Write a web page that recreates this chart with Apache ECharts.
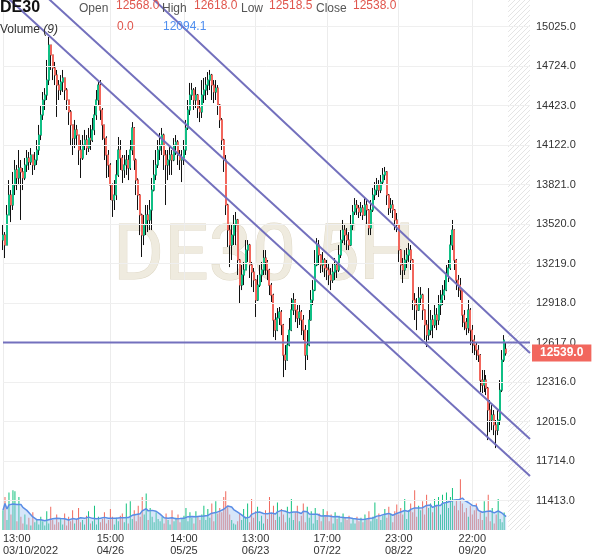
<!DOCTYPE html>
<html><head><meta charset="utf-8">
<script src="https://cdn.jsdelivr.net/npm/echarts@6/dist/echarts.min.js"></script>
<style>html,body{margin:0;padding:0;background:#fff}#c{width:600px;height:558px}</style>
</head><body><div id="c"></div>
<script>
const xLabels = ['13:00\n03/10/2022','15:00\n04/26','14:00\n05/25','13:00\n06/23','17:00\n07/22','23:00\n08/22','22:00\n09/20'];
const xLabelIndex = [0,54,91,127,163,199,236];
const priceTicks = [11413,11714,12015,12316,12617,12918,13219,13520,13821,14122,14423,14724,15025];
const resistanceLevel = 12618;
const lastPriceLabel = 12539.0;
// trend lines: [categoryIndex, price]
const trendLower = [[0,15277],[265,11601]];
const trendMiddle = [[0,15555],[265,11883]];
const trendUpper = [[0,16310],[265,12538]];
// candles: [open, close, low, high]
const candles = [
[13399,13437,13323,13514],[13437,13361,13262,13460],[13361,13590,13361,13666],[13590,13742,13590,13856],[13742,13666,13536,13780],
[13666,13818,13628,13918],[13818,13933,13742,14009],[13933,13872,13780,13971],[13872,13948,13818,14085],[13948,13918,13552,14009],
[13918,13872,13780,13948],[13872,13971,13856,14024],[13971,14024,13918,14085],[14024,13994,13933,14070],[13994,14047,13971,14100],
[14047,13971,13895,14047],[13971,14009,13933,14070],[14009,14085,13971,14161],[14085,14199,14047,14276],[14199,14352,14161,14428],
[14352,14466,14314,14527],[14466,14504,14390,14557],[14504,14618,14466,14771],[14618,14885,14580,14946],[14885,14809,14695,14885],
[14809,14710,14618,14809],[14710,14656,14580,14756],[14656,14580,14337,14695],[14580,14542,14466,14618],[14542,14603,14504,14656],
[14603,14634,14527,14695],[14634,14542,14466,14634],[14542,14466,14390,14557],[14466,14375,14276,14466],[14375,14276,14123,14390],
[14276,14176,14047,14276],[14176,14238,14100,14314],[14238,14199,14123,14276],[14199,14085,13971,14199],[14085,14024,13872,14161],
[14024,14123,14009,14199],[14123,14161,14085,14238],[14161,14100,14047,14199],[14100,14176,14070,14253],[14176,14161,14085,14276],
[14161,14238,14146,14329],[14238,14352,14199,14428],[14352,14466,14314,14542],[14466,14580,14428,14618],[14580,14390,14314,14618],
[14390,14276,14161,14405],[14276,14176,14009,14276],[14176,14047,13872,14190],[14047,13971,13879,14085],[13971,13818,13704,13985],
[13818,13704,13575,13830],[13704,13742,13628,13856],[13742,13895,13704,14009],[13895,14085,13880,14184],[14085,14024,13933,14161],
[14024,13933,13834,14047],[13933,13971,13872,14047],[13971,14009,13895,14085],[14009,13948,13856,14047],[13948,14085,13933,14161],
[14085,14253,14047,14298],[14253,14009,13933,14260],[14009,13856,13742,14020],[13856,13742,13628,13870],[13742,13590,13437,13750],
[13590,13437,13270,13600],[13437,13514,13361,13590],[13514,13590,13437,13666],[13590,13552,13460,13666],[13552,13628,13475,13704],
[13628,13780,13475,13872],[13780,13895,13770,14009],[13895,13971,13856,14085],[13971,14085,13948,14161],[14085,14123,14009,14215],
[14123,14199,14047,14253],[14199,14047,13933,14210],[14047,13971,13666,14085],[13971,14009,13856,14085],[14009,14047,13895,14123],
[14047,14009,13895,14085],[14009,14123,14000,14176],[14123,14146,14047,14199],[14146,14047,13971,14161],[14047,14009,13933,14085],
[14009,14024,13841,14085],[14024,14085,13971,14161],[14085,14253,14047,14314],[14253,14390,14238,14466],[14390,14504,14352,14596],
[14504,14542,14466,14596],[14542,14466,14390,14557],[14466,14504,14405,14565],[14504,14405,14329,14512],[14405,14375,14298,14466],
[14375,14504,14329,14618],[14504,14542,14443,14634],[14542,14580,14466,14641],[14580,14618,14504,14679],[14618,14656,14542,14695],
[14656,14580,14466,14665],[14580,14527,14443,14618],[14527,14557,14466,14618],[14557,14428,14352,14580],[14428,14314,14253,14435],
[14314,14161,14085,14329],[14161,14009,13918,14170],[14009,13666,13590,14047],[13666,13475,13346,13675],[13475,13361,13193,13514],
[13361,13437,13247,13514],[13437,13514,13361,13590],[13514,13552,13361,13613],[13552,13247,13133,13560],[13247,13056,12919,13255],
[13056,13133,13018,13209],[13133,13171,13056,13232],[13171,13323,13171,13399],[13323,13361,13232,13399],[13361,13209,13110,13370],
[13209,13155,13041,13232],[13155,13094,13003,13186],[13094,12942,12813,13100],[12942,13056,12935,13133],[13056,13133,13041,13209],
[13133,13171,13079,13232],[13171,13262,13133,13323],[13262,13232,13133,13323],[13232,13171,13094,13247],[13171,13056,12980,13180],
[13056,12980,12927,13072],[12980,12790,12660,12990],[12790,12713,12637,12843],[12713,12805,12705,12881],[12805,12851,12752,12889],
[12851,12752,12675,12866],[12752,12523,12355,12760],[12523,12485,12409,12599],[12485,12599,12480,12675],[12599,12713,12590,12805],
[12713,12866,12705,12957],[12866,12942,12828,12995],[12942,12866,12774,12950],[12866,12805,12729,12904],[12805,12851,12752,12904],
[12851,12790,12675,12866],[12790,12713,12637,12828],[12713,12523,12409,12752],[12523,12599,12485,12713],[12599,12790,12590,12866],
[12790,12942,12785,13018],[12942,13018,12904,13094],[13018,13209,13010,13323],[13209,13361,13200,13414],[13361,13285,13209,13399],
[13285,13209,13148,13290],[13209,13247,13155,13308],[13247,13186,13117,13262],[13186,13171,13094,13247],[13171,13133,13056,13224],
[13133,13094,13018,13186],[13094,13155,13072,13224],[13155,13209,13094,13262],[13209,13171,13110,13232],[13171,13285,13155,13361],
[13285,13399,13262,13475],[13399,13475,13376,13552],[13475,13437,13361,13514],[13437,13399,13323,13491],[13399,13361,13323,13460],
[13361,13514,13355,13590],[13514,13613,13475,13666],[13613,13666,13590,13719],[13666,13643,13590,13704],[13643,13613,13567,13666],
[13613,13643,13582,13689],[13643,13590,13552,13666],[13590,13666,13585,13719],[13666,13628,13514,13704],[13628,13491,13437,13635],
[13491,13628,13437,13704],[13628,13742,13613,13796],[13742,13780,13704,13841],[13780,13818,13742,13872],[13818,13780,13727,13856],
[13780,13841,13757,13895],[13841,13895,13818,13948],[13895,13918,13856,13956],[13918,13742,13666,13925],[13742,13643,13590,13750],
[13643,13666,13605,13719],[13666,13628,13567,13704],[13628,13552,13475,13635],[13552,13514,13460,13605],[13514,13323,13232,13520],
[13323,13209,13133,13330],[13209,13171,13072,13262],[13171,13247,13133,13323],[13247,13285,13186,13338],[13285,13323,13232,13376],
[13323,13247,13171,13361],[13247,12942,12866,13255],[12942,12904,12790,12995],[12904,12866,12713,12957],[12866,12957,12860,13041],
[12957,12980,12904,13041],[12980,12866,12790,12990],[12866,12752,12637,12870],[12752,12675,12584,12790],[12675,12713,12637,13033],
[12713,12790,12675,12866],[12790,12752,12652,12828],[12752,12828,12729,12904],[12828,12790,12713,12881],[12790,12904,12752,12980],
[12904,12942,12828,13018],[12942,12980,12904,13056],[12980,13018,12942,13094],[13018,13133,13010,13209],[13133,13186,13079,13247],
[13186,13361,13171,13437],[13361,13475,13323,13552],[13475,13247,13171,13480],[13247,13094,13018,13255],[13094,13056,12965,13133],
[13056,13018,12942,13110],[13018,12828,12736,13025],[12828,12774,12713,12866],[12774,12729,12675,12805],[12729,12866,12690,12942],
[12866,12713,12599,12881],[12713,12637,12538,12752],[12637,12599,12523,12675],[12599,12561,12485,12622],[12561,12523,12470,12599],
[12523,12332,12241,12530],[12332,12294,12233,12409],[12294,12332,12241,12409],[12332,12271,12218,12371],[12271,12104,11875,12280],
[12104,12028,11936,12180],[12028,12066,11951,12142],[12066,11990,11913,12104],[11990,11951,11814,12028],[11951,12028,11913,12104],
[12028,12256,11990,12332],[12256,12485,12241,12561],[12485,12637,12470,12675],[12568,12538,12518.5,12618]
];
const volumes = [
18000,30000,9000,34000,14000,36000,35000,8000,30000,12000,
6000,14000,5000,11000,4000,16000,7000,9000,5000,12000,
8000,4000,17000,6000,21000,9000,5000,14000,7000,10000,
5000,15000,4000,12000,8000,18000,6000,10000,20000,7000,
9000,5000,13000,17000,6000,8000,22000,5000,12000,7000,
10000,16000,6000,9000,19000,12000,5000,11000,8000,13000,
15000,7000,24000,6000,26000,10000,18000,8000,22000,12000,
30000,14000,33000,9000,20000,12000,7000,16000,10000,8000,
12000,6000,15000,9000,5000,18000,8000,11000,14000,7000,
10000,13000,20000,8000,16000,11000,6000,17000,12000,9000,
14000,22000,9000,19000,11000,24000,8000,26000,15000,20000,
16000,30000,35000,22000,14000,9000,6000,5000,8000,15000,
9000,19000,12000,24000,7000,28000,11000,17000,21000,8000,
13000,6000,18000,10000,30000,15000,22000,9000,25000,12000,
19000,14000,7000,21000,11000,28000,9000,16000,22000,8000,
13000,24000,7000,21000,11000,17000,6000,20000,9000,15000,
8000,19000,12000,17000,8000,14000,6000,16000,10000,13000,
7000,15000,11000,9000,13000,6000,10000,6000,12000,8000,
11000,7000,14000,9000,17000,8000,12000,25000,10000,15000,
9000,13000,19000,11000,21000,15000,7000,17000,23000,14000,
20000,14000,28000,10000,18000,24000,16000,36000,12000,22000,
18000,26000,14000,32000,20000,24000,16000,28000,22000,30000,
14000,32000,24000,34000,20000,30000,38000,22000,28000,18000,
46000,24000,16000,20000,12000,22000,14000,18000,24000,10000,
16000,9000,26000,12000,32000,8000,20000,6000,14000,28000,
10000,7000,15847,0
];
const VOLUME_MA_PERIOD = 9;
const CATEGORY_COUNT = 266;
const HATCH_FROM = 254;

const UP = '#10bf85', DOWN = '#f2665c';
const UP_VOL = '#12c27e', DOWN_VOL = '#f0695d';

const categories = Array.from({length: CATEGORY_COUNT}, (_, i) => {
  const k = xLabelIndex.indexOf(i);
  return k >= 0 ? xLabels[k] : String(i);
});
const isLabel = (i) => xLabelIndex.indexOf(i) >= 0;

const volumeMA = volumes.map((v, i) => {
  const s = volumes.slice(Math.max(0, i - VOLUME_MA_PERIOD + 1), i + 1);
  return s.reduce((a, b) => a + b, 0) / s.length;
});
const bodies = candles.map(c => [c[0], c[1], Math.min(c[0], c[1]), Math.max(c[0], c[1])]);

// hatch pattern
const pc = document.createElement('canvas'); pc.width = 5; pc.height = 5;
const g = pc.getContext('2d'); g.strokeStyle = '#e4e4e4'; g.lineWidth = 1;
g.beginPath(); g.moveTo(0, 5); g.lineTo(5, 0); g.moveTo(-1, 1); g.lineTo(1, -1); g.moveTo(4, 6); g.lineTo(6, 4); g.stroke();

const FONT = "'Liberation Sans', Arial, sans-serif";
const chart = echarts.init(document.getElementById('c'), null, {renderer: 'canvas'});
const hdr = (x, y, text, fill, extra) => Object.assign({type: 'text', x, y, silent: true, z: 10,
  style: Object.assign({text, fill, font: '12px ' + FONT, verticalAlign: 'top', textVerticalAlign: 'top'}, extra || {})});
const trendStyle = {color: '#7370bd', width: 2};
const trendSeries = (data) => ({type: 'line', data, yAxisIndex: 0, showSymbol: false, silent: true, clip: true,
  lineStyle: trendStyle, z: 6, animation: false});

chart.setOption({
  animation: false,
  textStyle: {fontFamily: FONT},
  grid: {left: 0, right: 70, top: 0, bottom: 28, containLabel: false},
  xAxis: {
    type: 'category', data: categories, boundaryGap: false,
    axisLine: {show: false}, axisTick: {show: false},
    axisLabel: {interval: (i) => isLabel(i), fontSize: 11, color: '#333', lineHeight: 12, margin: 3, alignMinLabel: 'left'},
    splitLine: {show: true, interval: (i) => isLabel(i), lineStyle: {color: '#ececec', width: 1}}
  },
  yAxis: [{
    type: 'value', position: 'right', min: 11190, max: 15228, scale: true,
    axisLine: {show: false}, axisTick: {show: false}, splitLine: {show: false},
    axisLabel: {customValues: priceTicks, formatter: (v) => Number(v).toFixed(1), fontSize: 11, color: '#333', margin: 6}
  }, {
    type: 'value', min: 0, max: 480000, show: false, splitLine: {show: false}
  }],
  graphic: [
    {type: 'text', x: 264, y: 259, silent: true, z: -1,
      style: {text: 'DE30 5H', font: '78px Roboto', fill: '#efebdf', stroke: '#ded7c4', lineWidth: 1,
        align: 'center', verticalAlign: 'middle', textAlign: 'center', textVerticalAlign: 'middle'}},
    hdr(0, 0, 'DE30', '#111', {font: 'bold 16px ' + FONT}),
    hdr(79, 3, 'Open', '#555'),
    hdr(116, 0, '12568.0', '#e0554c'),
    hdr(162, 3, 'High', '#555'),
    hdr(194, 0, '12618.0', '#e0554c'),
    hdr(241, 3, 'Low', '#555'),
    hdr(269, 0, '12518.5', '#e0554c'),
    hdr(316, 3, 'Close', '#555'),
    hdr(353, 0, '12538.0', '#e0554c'),
    hdr(0, 24, 'Volume {i|(9)}', '#333', {rich: {i: {fontStyle: 'italic', fontSize: 12, fill: '#333', fontFamily: FONT}}}),
    hdr(117, 21, '0.0', '#e0554c'),
    hdr(163, 21, '12094.1', '#4f8ff0')
  ],
  series: [
    {type: 'line', data: [], yAxisIndex: 0, z: 0, silent: true,
      markLine: {silent: true, symbol: ['none', 'none'], label: {show: false}, animation: false,
        lineStyle: {color: '#efefef', width: 1, type: 'solid'},
        data: priceTicks.map(v => ({yAxis: v}))},
      markArea: {silent: true, label: {show: false},
        itemStyle: {color: {image: pc, repeat: 'repeat'}, opacity: 1},
        data: [[{xAxis: categories[HATCH_FROM]}, {xAxis: categories[CATEGORY_COUNT - 1]}]]}
    },
    {type: 'bar', yAxisIndex: 1, data: volumes, barWidth: 1, z: 1, silent: true,
      itemStyle: {color: (p) => (candles[p.dataIndex][1] >= candles[p.dataIndex][0] ? UP_VOL : DOWN_VOL)}},
    {type: 'line', yAxisIndex: 1, data: volumeMA, showSymbol: false, silent: true, z: 2,
      lineStyle: {color: '#5a8de6', width: 1.5}, areaStyle: {color: 'rgba(160,196,240,0.6)'}},
    {type: 'candlestick', yAxisIndex: 0, data: candles, barWidth: 1.5, z: 3, silent: true,
      itemStyle: {color: '#111', color0: '#111', borderColor: '#111', borderColor0: '#111', borderWidth: 1}},
    {type: 'candlestick', yAxisIndex: 0, data: bodies, barWidth: 1.5, z: 4, silent: true,
      itemStyle: {color: UP, color0: DOWN, borderColor: UP, borderColor0: DOWN, borderWidth: 1},
      markLine: {silent: true, symbol: ['none', 'none'], animation: false,
        lineStyle: {color: 'rgba(0,0,0,0)', width: 0},
        label: {show: true, position: 'end', distance: 2, formatter: lastPriceLabel.toFixed(1), color: '#fff',
          fontWeight: 'bold', fontSize: 12, fontFamily: FONT, backgroundColor: '#f2675e', padding: [3, 8, 2, 8]},
        data: [{yAxis: lastPriceLabel}]}
    },
    trendSeries(trendLower),
    trendSeries(trendMiddle),
    trendSeries(trendUpper),
    trendSeries([[0, resistanceLevel], [CATEGORY_COUNT - 1, resistanceLevel]])
  ]
});
</script>
</body></html>
